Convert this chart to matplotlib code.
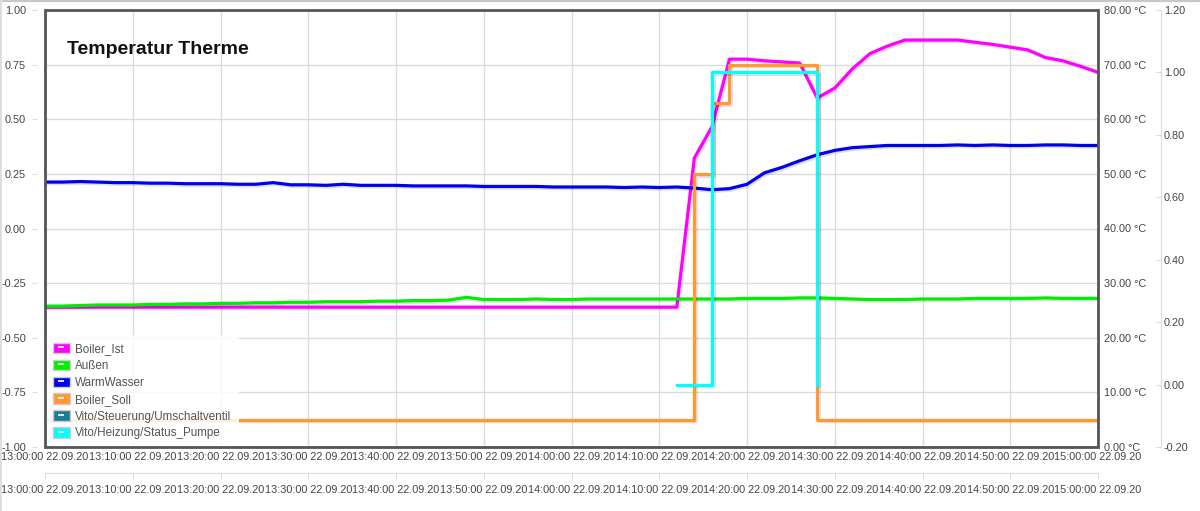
import matplotlib
matplotlib.use('Agg')
import numpy as np
import matplotlib.pyplot as plt
import matplotlib.patheffects as pe
from matplotlib.patches import Patch, Rectangle
from matplotlib.lines import Line2D

plt.rcParams['font.family'] = ['Liberation Sans', 'DejaVu Sans']

# sample clock: minutes after 13:00, one reading every 2 minutes
minutes = np.arange(0, 121, 2)

boiler_ist = [25.6, 25.6, 25.6, 25.6, 25.6, 25.6, 25.6, 25.6, 25.6, 25.6,
              25.6, 25.6, 25.6, 25.6, 25.6, 25.6, 25.6, 25.6, 25.6, 25.6,
              25.6, 25.6, 25.6, 25.6, 25.6, 25.6, 25.6, 25.6, 25.6, 25.6,
              25.6, 25.6, 25.6, 25.6, 25.6, 25.6, 25.6, 52.9, 58.6, 71.0,
              71.0, 70.7, 70.5, 70.3, 63.9, 65.7, 69.2, 72.0, 73.4, 74.5,
              74.5, 74.5, 74.5, 74.1, 73.7, 73.2, 72.7, 71.3, 70.7, 69.7,
              68.6]
aussen = [25.8, 25.8, 25.9, 26.0, 26.0, 26.0, 26.1, 26.1, 26.2, 26.2,
          26.3, 26.3, 26.4, 26.4, 26.5, 26.5, 26.6, 26.6, 26.6, 26.7,
          26.7, 26.8, 26.8, 26.9, 27.4, 27.0, 27.0, 27.0, 27.1, 27.0,
          27.0, 27.1, 27.1, 27.1, 27.1, 27.1, 27.1, 27.1, 27.1, 27.1,
          27.2, 27.2, 27.2, 27.3, 27.3, 27.2, 27.1, 27.0, 27.0, 27.0,
          27.1, 27.1, 27.1, 27.2, 27.2, 27.2, 27.2, 27.3, 27.2, 27.2,
          27.2]
warm_wasser = [48.5, 48.5, 48.6, 48.5, 48.4, 48.4, 48.3, 48.3, 48.2, 48.2,
               48.2, 48.1, 48.1, 48.4, 48.0, 48.0, 47.9, 48.1, 47.9, 47.9,
               47.9, 47.8, 47.8, 47.8, 47.8, 47.7, 47.7, 47.7, 47.7, 47.6,
               47.6, 47.6, 47.6, 47.5, 47.6, 47.5, 47.6, 47.4, 47.1, 47.3,
               48.1, 50.2, 51.2, 52.4, 53.5, 54.3, 54.8, 55.0, 55.2, 55.2,
               55.2, 55.2, 55.3, 55.2, 55.3, 55.2, 55.2, 55.3, 55.3, 55.2,
               55.2]
boiler_soll = [5, 5, 5, 5, 5, 5, 5, 5, 5, 5,
               5, 5, 5, 5, 5, 5, 5, 5, 5, 5,
               5, 5, 5, 5, 5, 5, 5, 5, 5, 5,
               5, 5, 5, 5, 5, 5, 5, 50, 63, 70,
               70, 70, 70, 70, 5, 5, 5, 5, 5, 5,
               5, 5, 5, 5, 5, 5, 5, 5, 5, 5,
               5]
nan = np.nan
status_pumpe = [nan, nan, nan, nan, nan, nan, nan, nan, nan, nan,
                nan, nan, nan, nan, nan, nan, nan, nan, nan, nan,
                nan, nan, nan, nan, nan, nan, nan, nan, nan, nan,
                nan, nan, nan, nan, nan, nan, 0, 0, 1, 1,
                1, 1, 1, 1, 0, nan, nan, nan, nan, nan,
                nan, nan, nan, nan, nan, nan, nan, nan, nan, nan,
                nan]

series_names = ['Boiler_Ist', 'Außen', 'WarmWasser', 'Boiler_Soll',
                'Vito/Steuerung/Umschaltventil', 'Vito/Heizung/Status_Pumpe']
series_colors = ['#ff00ff', '#00ee00', '#0000ee', '#ff9a33', '#1a7e96', '#00ffff']

tick_minutes = [0, 10, 20, 30, 40, 50, 60, 70, 80, 90, 100, 110, 120]
tick_times = ['13:00:00', '13:10:00', '13:20:00', '13:30:00', '13:40:00',
              '13:50:00', '14:00:00', '14:10:00', '14:20:00', '14:30:00',
              '14:40:00', '14:50:00', '15:00:00']
tick_date = '22.09.20'
left_ticks = [-1.0, -0.75, -0.5, -0.25, 0.0, 0.25, 0.5, 0.75, 1.0]
temp_ticks = [0, 10, 20, 30, 40, 50, 60, 70, 80]
right_ticks = [-0.2, 0.0, 0.2, 0.4, 0.6, 0.8, 1.0, 1.2]

txt = '#444444'
grid = '#dcdcdc'
fs = 7.8
pt = 0.72  # points per pixel at dpi 100

fig = plt.figure(figsize=(12, 5.11), dpi=100)
ax = fig.add_axes([45 / 1200, 1 - 447 / 511, 1053 / 1200, 437 / 511])
ax.set_xlim(0, 120)
ax.set_ylim(-1, 1)
ax.set_xticks(tick_minutes)
ax.set_xticklabels([f'{t} {tick_date}' for t in tick_times])
ax.set_yticks(left_ticks)
ax.set_yticklabels([f'{v:.2f}' for v in left_ticks])
ax.grid(color=grid, lw=1)
for s in ax.spines.values():
    s.set_color('none')
ax.spines['left'].set_position(('outward', 8 * pt))
ax.tick_params(axis='y', length=5 * pt, color=grid, pad=6 * pt, labelcolor=txt, labelsize=fs)
ax.tick_params(axis='x', length=0, pad=5 * pt, labelcolor=txt, labelsize=fs)

# second row of time labels below the chart
ax2 = ax.twiny()
ax2.set_xlim(0, 120)
ax2.set_xticks(tick_minutes)
ax2.set_xticklabels([f'{t} {tick_date}' for t in tick_times])
ax2.xaxis.set_ticks_position('bottom')
ax2.xaxis.set_label_position('bottom')
for s in ax2.spines.values():
    s.set_color('none')
ax2.spines['bottom'].set_color(grid)
ax2.spines['bottom'].set_position(('outward', 26 * pt))
ax2.tick_params(axis='x', length=6 * pt, color=grid, pad=6 * pt, labelcolor=txt, labelsize=fs)

# temperature axis
ax_t = ax.twinx()
ax_t.set_ylim(0, 80)
ax_t.set_yticks(temp_ticks)
ax_t.set_yticklabels([f'{v:.2f} °C' for v in temp_ticks])
for s in ax_t.spines.values():
    s.set_color('none')
ax_t.tick_params(axis='y', length=0, pad=6 * pt, labelcolor=txt, labelsize=fs)

# pump status axis
ax_r = ax.twinx()
ax_r.set_ylim(-0.2, 1.2)
ax_r.set_yticks(right_ticks)
ax_r.set_yticklabels([f'{v:.2f}' for v in right_ticks])
for s in ax_r.spines.values():
    s.set_color('none')
ax_r.spines['right'].set_color(grid)
ax_r.spines['right'].set_position(('outward', 63 * pt))
ax_r.tick_params(axis='y', direction='in', length=5 * pt, color=grid, pad=3 * pt,
                 labelcolor=txt, labelsize=fs)

shadow = [pe.SimpleLineShadow(offset=(1.2, -1.2), shadow_color='k', alpha=0.12), pe.Normal()]
lw = 2.3
ax_t.plot(minutes, boiler_ist, color=series_colors[0], lw=lw, path_effects=shadow)
ax_t.plot(minutes, aussen, color=series_colors[1], lw=lw, path_effects=shadow)
ax_t.plot(minutes, warm_wasser, color=series_colors[2], lw=lw, path_effects=shadow)
ax_t.plot(minutes, boiler_soll, color=series_colors[3], lw=lw, drawstyle='steps-post',
          path_effects=shadow)
pump = np.array(status_pumpe, dtype=float)
on = ~np.isnan(pump)
ax_r.plot(minutes[on], pump[on], color=series_colors[5], lw=lw, drawstyle='steps-post',
          path_effects=shadow)

# plot frame
ax_r.add_patch(Rectangle((0, 0), 1, 1, transform=ax.transAxes, fill=False,
                         ec='#555555', lw=2, zorder=10, clip_on=False))

fig.text(67 / 1200, 1 - 54 / 511, 'Temperatur Therme', fontsize=14, fontweight='bold',
         color='#111111', va='baseline')

handles = [(Patch(fc=c, ec='#cccccc', lw=1),
            Line2D([], [], marker='_', color='white', markersize=5, mew=1.2, ls='none'))
           for c in series_colors]
leg = ax_r.legend(handles, series_names, loc='lower left', bbox_to_anchor=(0, 0),
                  borderaxespad=0, frameon=True, fancybox=False, edgecolor='none',
                  facecolor='white', framealpha=0.85, fontsize=8.4, handlelength=1.5,
                  handleheight=1.0, handletextpad=0.45, labelspacing=0.4, borderpad=0.65)
for t in leg.get_texts():
    t.set_color('#545454')

# light outer border of the widget
fig.add_artist(Line2D([0, 1], [1, 1], transform=fig.transFigure, color='#c8c8c8', lw=3))
fig.add_artist(Line2D([0, 0], [0, 1], transform=fig.transFigure, color='#dddddd', lw=2))

fig.savefig('out.png', dpi=100)
